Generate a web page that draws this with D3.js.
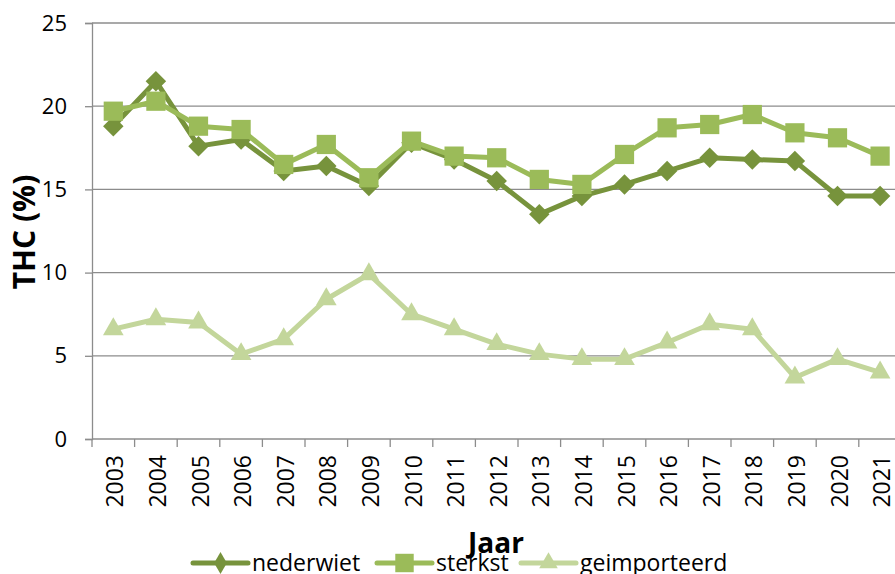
<!DOCTYPE html>
<html>
<head>
<meta charset="utf-8">
<script src="https://cdn.jsdelivr.net/npm/d3@7"></script>
<style>
  body { margin: 0; background: #fff; }
  svg { display: block; }
</style>
</head>
<body>
<div id="chart"></div>
<script>
const years = ['2003','2004','2005','2006','2007','2008','2009','2010','2011','2012',
               '2013','2014','2015','2016','2017','2018','2019','2020','2021'];
const nederwiet = [18.8, 21.5, 17.6, 18.0, 16.1, 16.4, 15.2, 17.8, 16.8, 15.5,
                   13.5, 14.6, 15.3, 16.1, 16.9, 16.8, 16.7, 14.6, 14.6];
const sterkst = [19.7, 20.3, 18.8, 18.6, 16.5, 17.7, 15.7, 17.9, 17.0, 16.9,
                 15.6, 15.3, 17.1, 18.7, 18.9, 19.5, 18.4, 18.1, 17.0];
const geimporteerd = [6.6, 7.2, 7.0, 5.1, 6.0, 8.4, 9.9, 7.5, 6.6, 5.7,
                      5.1, 4.8, 4.8, 5.8, 6.9, 6.6, 3.7, 4.8, 4.0];
const yTicks = [0, 5, 10, 15, 20, 25];

// markers: diamond is a square turned 45 degrees
const series = [
    { name: 'nederwiet', values: nederwiet, color: '#77933c',
      symbol: d3.symbolSquare, size: 210, rotate: 45, legendSymbol: d3.symbolDiamond, legendSize: 140 },
    { name: 'sterkst', values: sterkst, color: '#9bbb59',
      symbol: d3.symbolSquare, size: 370, rotate: 0, legendSymbol: d3.symbolSquare, legendSize: 340 },
    { name: 'geimporteerd', values: geimporteerd, color: '#c3d69b',
      symbol: d3.symbolTriangle, size: 185, rotate: 0, legendSymbol: d3.symbolTriangle, legendSize: 150 }
];

const width = 895, height = 574;
const margin = { left: 92, top: 23, bottom: 135 };
const band = 42.6;

const svg = d3.select('#chart').append('svg')
    .attr('width', width)
    .attr('height', height);

const x = d3.scaleBand()
    .domain(years)
    .range([margin.left, margin.left + band * years.length]);

const y = d3.scaleLinear()
    .domain([0, 25])
    .range([height - margin.bottom, margin.top]);

const font = "'Open Sans', 'DejaVu Sans', sans-serif";
const gray = '#8c8c8c';

// gridlines
svg.append('g')
    .selectAll('line')
    .data(yTicks.filter(d => d > 0))
    .enter().append('line')
    .attr('x1', margin.left)
    .attr('x2', width)
    .attr('y1', d => y(d))
    .attr('y2', d => y(d))
    .attr('stroke', gray)
    .attr('stroke-width', 1.3);

// y axis
const yAxis = svg.append('g')
    .attr('transform', `translate(${margin.left},0)`)
    .call(d3.axisLeft(y).tickValues(yTicks).tickSize(7).tickPadding(18));
yAxis.select('.domain').attr('stroke', gray).attr('stroke-width', 1.3);
yAxis.selectAll('.tick line').attr('stroke', gray).attr('stroke-width', 1.3);
yAxis.selectAll('.tick text')
    .style('font-family', font)
    .style('font-size', '22px')
    .attr('fill', '#000');

// x axis, ticks sit on the band edges
const xAxisG = svg.append('g')
    .attr('transform', `translate(0,${y(0)})`);
xAxisG.append('line')
    .attr('x1', margin.left).attr('x2', width)
    .attr('stroke', gray).attr('stroke-width', 1.3);
xAxisG.selectAll('line.tick')
    .data(years)
    .enter().append('line')
    .attr('class', 'tick')
    .attr('x1', d => x(d)).attr('x2', d => x(d))
    .attr('y1', 0).attr('y2', 8)
    .attr('stroke', gray).attr('stroke-width', 1.3);
xAxisG.selectAll('text')
    .data(years)
    .enter().append('text')
    .attr('transform', d => `translate(${x(d) + x.bandwidth() / 2 + 10},16) rotate(-90)`)
    .attr('text-anchor', 'end')
    .style('font-family', font)
    .style('font-size', '23px')
    .attr('fill', '#000')
    .text(d => d);

// axis titles
svg.append('text')
    .attr('transform', `translate(35,${(y(0) + y(25)) / 2 + 1}) rotate(-90)`)
    .attr('text-anchor', 'middle')
    .style('font-family', font)
    .style('font-size', '30px')
    .style('font-weight', 'bold')
    .text('THC (%)');

svg.append('text')
    .attr('x', 496)
    .attr('y', 553)
    .attr('text-anchor', 'middle')
    .style('font-family', font)
    .style('font-size', '28px')
    .style('font-weight', 'bold')
    .text('Jaar');

// lines and markers (first series underneath)
const line = d3.line()
    .x((d, i) => x(years[i]) + x.bandwidth() / 2)
    .y(d => y(d));

series.forEach(s => {
    const g = svg.append('g');
    g.append('path')
        .datum(s.values)
        .attr('d', line)
        .attr('fill', 'none')
        .attr('stroke', s.color)
        .attr('stroke-width', 5)
        .attr('stroke-linejoin', 'round');
    g.selectAll('path.marker')
        .data(s.values)
        .enter().append('path')
        .attr('class', 'marker')
        .attr('d', d3.symbol().type(s.symbol).size(s.size))
        .attr('transform', (d, i) =>
            `translate(${x(years[i]) + x.bandwidth() / 2},${y(d)}) rotate(${s.rotate})`)
        .attr('fill', s.color);
});

// legend
const legendX = [193, 377, 521];
const legend = svg.append('g');
series.forEach((s, i) => {
    const g = legend.append('g').attr('transform', `translate(${legendX[i]},563)`);
    g.append('line')
        .attr('x1', 0).attr('x2', 55)
        .attr('stroke', s.color).attr('stroke-width', 5)
        .attr('stroke-linecap', 'round');
    g.append('path')
        .attr('d', d3.symbol().type(s.legendSymbol).size(s.legendSize))
        .attr('transform', 'translate(27.5,0)')
        .attr('fill', s.color);
    g.append('text')
        .attr('x', 59)
        .attr('y', 8)
        .style('font-family', font)
        .style('font-size', '23px')
        .text(s.name);
});
</script>
</body>
</html>
